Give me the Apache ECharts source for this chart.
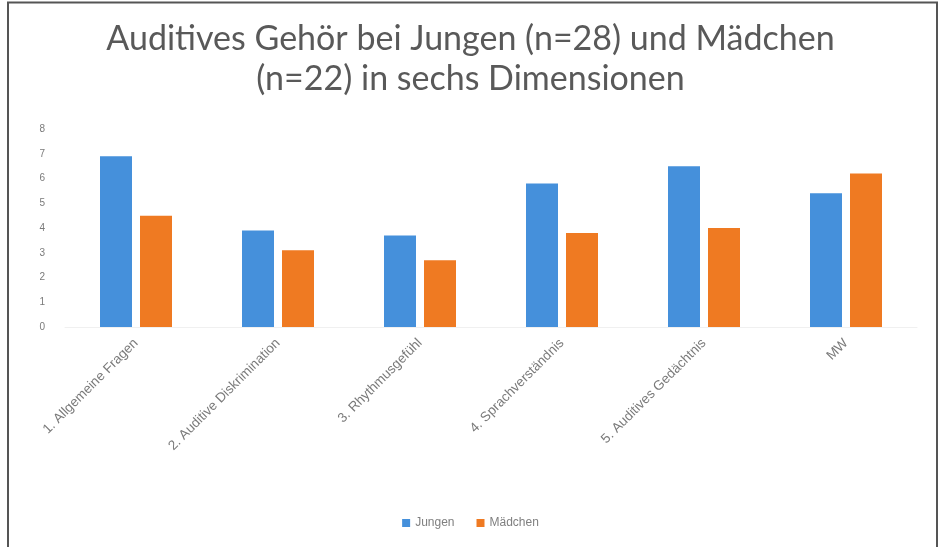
<!DOCTYPE html>
<html><head><meta charset="utf-8">
<script src="https://cdn.jsdelivr.net/npm/echarts@6/dist/echarts.min.js"></script>
<style>html,body{margin:0;padding:0;background:#fff}#c{width:941px;height:547px}</style>
</head><body><div id="c"></div>
<script>
const categories = ["1. Allgemeine Fragen", "2. Auditive Diskrimination", "3. Rhythmusgefühl", "4. Sprachverständnis", "5. Auditives Gedächtnis", "MW"];
const jungen = [6.9, 3.9, 3.7, 5.8, 6.5, 5.4];
const maedchen = [4.5, 3.1, 2.7, 3.8, 4.0, 6.2];
const yTicks = [0, 1, 2, 3, 4, 5, 6, 7, 8];

const chart = echarts.init(document.getElementById('c'));
chart.setOption({
  animation: false,
  backgroundColor: '#fff',
  title: {
    text: 'Auditives Gehör bei Jungen (n=28) und Mädchen\n(n=22) in sechs Dimensionen',
    left: 'center', top: 14,
    textStyle: { fontFamily: 'Lato', fontWeight: 'normal', fontSize: 34, lineHeight: 40, color: '#595959' }
  },
  graphic: [{
    type: 'polyline', silent: true,
    shape: { points: [[8, 547], [8, 2.5], [937, 2.5], [937, 547]] },
    style: { stroke: '#555', lineWidth: 2, fill: null }
  }],
  legend: {
    bottom: 13, left: 'center', itemWidth: 8, itemHeight: 8, itemGap: 22,
    icon: 'rect',
    textStyle: { fontSize: 12, color: '#7f7f7f', fontFamily: 'Liberation Sans' },
    data: ['Jungen', 'Mädchen']
  },
  grid: { left: 65, right: 24, top: 129, bottom: 220, containLabel: false },
  xAxis: {
    type: 'category', data: categories,
    axisLine: { lineStyle: { color: '#f0f0f0' } },
    axisTick: { show: false },
    axisLabel: { rotate: 45, fontSize: 13.5, color: '#7a7a7a', margin: 14, fontFamily: 'Liberation Sans', interval: 0 }
  },
  yAxis: {
    type: 'value', min: yTicks[0], max: yTicks[yTicks.length - 1], interval: 1,
    axisLine: { show: false }, axisTick: { show: false },
    splitLine: { show: false },
    axisLabel: { fontSize: 10, color: '#7a7a7a', margin: 20, fontFamily: 'Liberation Sans' }
  },
  series: [
    { name: 'Jungen', type: 'bar', data: jungen, barWidth: 32, barGap: '25%', itemStyle: { color: '#4590db' } },
    { name: 'Mädchen', type: 'bar', data: maedchen, barWidth: 32, itemStyle: { color: '#ef7a22' } }
  ]
});
</script></body></html>
